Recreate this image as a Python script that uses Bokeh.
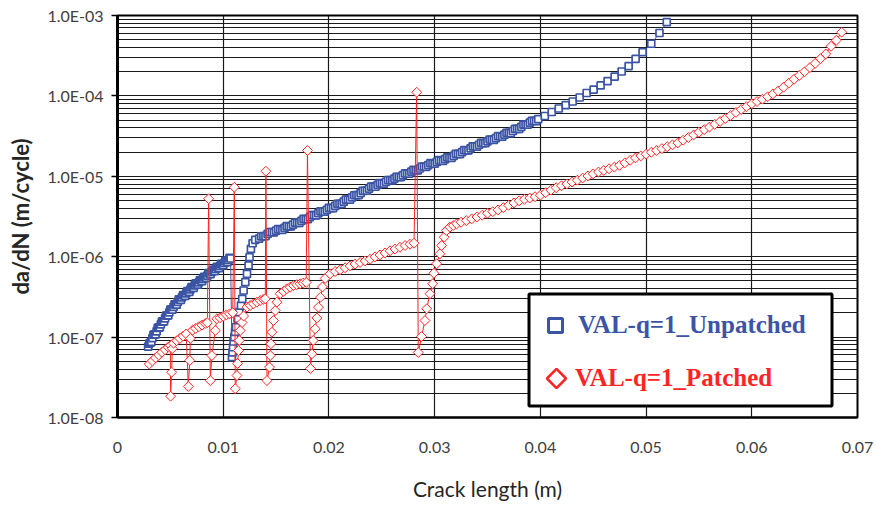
import numpy as np
from bokeh.plotting import figure
from bokeh.models import Range1d, FixedTicker, Legend, LegendItem
from bokeh.embed import file_html
from bokeh.resources import INLINE

# ---------------- data ----------------
blue_x = [0.0029, 0.0031, 0.0033, 0.0035, 0.0037, 0.0039, 0.0041, 0.0043, 0.0045, 0.0047,
          0.0049, 0.0051, 0.0053, 0.0055, 0.0057, 0.0059, 0.0061, 0.0063, 0.0065, 0.0067,
          0.0069, 0.0071, 0.0073, 0.0075, 0.0077, 0.0079, 0.0081, 0.0083, 0.0085, 0.0087,
          0.0089, 0.0091, 0.0093, 0.0095, 0.0097, 0.0099, 0.0101, 0.0103, 0.0105, 0.0107,
          0.01083, 0.01088, 0.01093, 0.01098, 0.01105, 0.01112, 0.01121, 0.01136, 0.01152, 0.01168,
          0.0118, 0.01193, 0.01209, 0.01225, 0.0124, 0.01249, 0.01262, 0.01278, 0.01303,
          0.0134, 0.0138, 0.0142, 0.0146, 0.0150, 0.0154, 0.0158, 0.0162, 0.0166, 0.0170,
          0.0174, 0.0178, 0.0182, 0.0186, 0.0190, 0.0194, 0.0198, 0.0202, 0.0206, 0.0210,
          0.0214, 0.0218, 0.0222, 0.0226, 0.0230, 0.0234, 0.0238, 0.0242, 0.0246, 0.0250,
          0.0254, 0.0258, 0.0262, 0.0266, 0.0270, 0.0274, 0.0278, 0.0282, 0.0286, 0.0290,
          0.0294, 0.0298, 0.0302, 0.0306, 0.0310, 0.0314, 0.0318, 0.0322, 0.0326, 0.0330,
          0.0334, 0.0338, 0.0342, 0.0346, 0.0350, 0.0354, 0.0358, 0.0362, 0.0366, 0.0370,
          0.0374, 0.0378, 0.0382, 0.0386, 0.0390, 0.0394, 0.0398,
          0.04042, 0.04108, 0.04174, 0.0424, 0.04306, 0.04372, 0.04438, 0.04504, 0.0457, 0.04636,
          0.04703, 0.04769, 0.04835, 0.04901, 0.04967, 0.05049, 0.05127, 0.05196]
blue_y = [7.6e-8, 8.5e-8, 9.7e-8, 1.08e-7, 1.18e-7, 1.32e-7, 1.44e-7, 1.57e-7, 1.71e-7, 1.86e-7,
          2.03e-7, 2.21e-7, 2.37e-7, 2.55e-7, 2.74e-7, 2.94e-7, 3.12e-7, 3.30e-7, 3.49e-7, 3.70e-7,
          3.92e-7, 4.15e-7, 4.40e-7, 4.59e-7, 4.80e-7, 5.06e-7, 5.29e-7, 5.52e-7, 5.83e-7, 6.18e-7,
          6.45e-7, 6.73e-7, 7.03e-7, 7.34e-7, 7.66e-7, 8.00e-7, 8.35e-7, 8.72e-7, 9.10e-7, 9.50e-7,
          5.62e-8, 6.44e-8, 7.48e-8, 8.81e-8, 9.97e-8, 1.16e-7, 1.33e-7, 1.69e-7, 2.04e-7, 2.47e-7,
          2.99e-7, 3.80e-7, 4.82e-7, 6.12e-7, 7.78e-7, 9.86e-7, 1.25e-6, 1.47e-6, 1.62e-6,
          1.68e-6, 1.80e-6, 1.92e-6, 2.03e-6, 2.11e-6, 2.19e-6, 2.28e-6, 2.39e-6, 2.51e-6, 2.64e-6,
          2.79e-6, 2.94e-6, 3.11e-6, 3.28e-6, 3.47e-6, 3.65e-6, 3.83e-6, 4.03e-6, 4.28e-6, 4.55e-6,
          4.83e-6, 5.14e-6, 5.47e-6, 5.82e-6, 6.19e-6, 6.61e-6, 7.03e-6, 7.46e-6, 7.82e-6, 8.18e-6,
          8.55e-6, 8.94e-6, 9.36e-6, 9.80e-6, 1.028e-5, 1.08e-5, 1.14e-5, 1.19e-5, 1.25e-5, 1.32e-5,
          1.38e-5, 1.45e-5, 1.51e-5, 1.57e-5, 1.64e-5, 1.70e-5, 1.80e-5, 1.90e-5, 2.00e-5, 2.11e-5,
          2.23e-5, 2.35e-5, 2.47e-5, 2.59e-5, 2.72e-5, 2.85e-5, 2.99e-5, 3.15e-5, 3.29e-5, 3.46e-5,
          3.66e-5, 3.89e-5, 4.13e-5, 4.40e-5, 4.64e-5, 4.89e-5, 5.15e-5,
          5.62e-5, 6.31e-5, 6.97e-5, 7.70e-5, 8.52e-5, 9.55e-5, 1.087e-4, 1.20e-4, 1.35e-4, 1.53e-4,
          1.74e-4, 2.01e-4, 2.35e-4, 2.88e-4, 3.50e-4, 4.45e-4, 6.06e-4, 8.26e-4]

# extra points of the thick (densely sampled, slightly scattered) parts of the blue band
blue_x_band = [0.0030, 0.0032, 0.0034, 0.0036, 0.0038, 0.0040, 0.0042, 0.0044, 0.0046, 0.0048,
               0.0050, 0.0052, 0.0054, 0.0056, 0.0058, 0.0060, 0.0062, 0.0064, 0.0066, 0.0068,
               0.0070, 0.0072, 0.0074, 0.0076, 0.0078, 0.0080, 0.0082, 0.0084, 0.0086, 0.0088,
               0.0090, 0.0092, 0.0094, 0.0096, 0.0098, 0.0100, 0.0102, 0.0104, 0.0106,
               0.0136, 0.0140, 0.0144, 0.0148, 0.0152, 0.0156, 0.0160, 0.0164, 0.0168, 0.0172,
               0.0176, 0.0180, 0.0184, 0.0188, 0.0192, 0.0196, 0.0200, 0.0204, 0.0208, 0.0212,
               0.0216, 0.0220, 0.0224, 0.0228, 0.0232, 0.0236, 0.0240, 0.0244, 0.0248, 0.0252,
               0.0256, 0.0260, 0.0264, 0.0268, 0.0272, 0.0276, 0.0280, 0.0284, 0.0288, 0.0292,
               0.0296, 0.0300, 0.0304, 0.0308, 0.0312, 0.0316, 0.0320, 0.0324, 0.0328, 0.0332,
               0.0336, 0.0340, 0.0344, 0.0348, 0.0352, 0.0356, 0.0360, 0.0364, 0.0368, 0.0372,
               0.0376, 0.0380, 0.0384, 0.0388, 0.0392, 0.0396]
blue_y_band = [8.3e-8, 8.7e-8, 1.07e-7, 1.08e-7, 1.30e-7, 1.32e-7, 1.56e-7, 1.57e-7, 1.85e-7, 1.86e-7,
               2.20e-7, 2.20e-7, 2.56e-7, 2.53e-7, 2.95e-7, 2.91e-7, 3.34e-7, 3.25e-7, 3.73e-7, 3.66e-7,
               4.19e-7, 4.10e-7, 4.67e-7, 4.50e-7, 5.13e-7, 4.96e-7, 5.62e-7, 5.44e-7, 6.24e-7, 6.06e-7,
               6.85e-7, 6.60e-7, 7.47e-7, 7.20e-7, 8.14e-7, 7.84e-7, 8.87e-7, 8.55e-7, 9.67e-7,
               1.79e-6, 1.80e-6, 2.03e-6, 2.01e-6, 2.21e-6, 2.16e-6, 2.40e-6, 2.38e-6, 2.65e-6, 2.63e-6,
               2.95e-6, 2.93e-6, 3.29e-6, 3.27e-6, 3.67e-6, 3.63e-6, 4.05e-6, 4.03e-6, 4.54e-6, 4.55e-6,
               5.13e-6, 5.14e-6, 5.81e-6, 5.82e-6, 6.59e-6, 6.62e-6, 7.46e-6, 7.41e-6, 8.24e-6, 8.11e-6,
               9.00e-6, 8.88e-6, 9.87e-6, 9.74e-6, 1.086e-5, 1.077e-5, 1.20e-5, 1.183e-5, 1.324e-5, 1.31e-5,
               1.457e-5, 1.436e-5, 1.586e-5, 1.557e-5, 1.72e-5, 1.698e-5, 1.906e-5, 1.892e-5, 2.117e-5, 2.105e-5,
               2.359e-5, 2.338e-5, 2.606e-5, 2.575e-5, 2.869e-5, 2.832e-5, 3.162e-5, 3.123e-5, 3.476e-5, 3.453e-5,
               3.883e-5, 3.89e-5, 4.388e-5, 4.384e-5, 4.903e-5, 4.869e-5]

red_x = [0.0030, 0.0033, 0.0036, 0.0039, 0.0042, 0.0045, 0.0048, 0.0050,
         0.00502, 0.00512, 0.00518,
         0.0053, 0.0056, 0.0059, 0.0062, 0.0065,
         0.0067, 0.00684, 0.00689,
         0.0071, 0.0074, 0.0077, 0.0080, 0.0083, 0.0085,
         0.00862, 0.00878, 0.00893, 0.00925,
         0.0094, 0.0097, 0.0100, 0.0103, 0.0106, 0.0109,
         0.01105, 0.01114, 0.0113, 0.01136, 0.01145, 0.01152, 0.01161, 0.01178, 0.01193,
         0.01225, 0.01256, 0.01287, 0.01318, 0.0135, 0.01379, 0.01398,
         0.01404, 0.01414, 0.01438, 0.01445, 0.01451, 0.01461, 0.01476, 0.01492, 0.01508,
         0.01539, 0.0157, 0.01602, 0.01634, 0.01665, 0.01696, 0.01728, 0.01756, 0.01785,
         0.01797, 0.01825, 0.01839, 0.01851, 0.0187, 0.01886, 0.01901, 0.0192, 0.01939, 0.01964,
         0.02011, 0.02059, 0.02106, 0.02153, 0.0220, 0.02247, 0.02295, 0.02342, 0.02389, 0.02436,
         0.02483, 0.02531, 0.02578, 0.02625, 0.02672, 0.0272, 0.02767, 0.02805,
         0.0283, 0.02845, 0.02877, 0.02908, 0.02925, 0.02956, 0.02981, 0.02993, 0.03019, 0.0305,
         0.03066, 0.03091, 0.03113, 0.03144, 0.03176, 0.03208,
         0.0325, 0.0330, 0.0335, 0.0340, 0.0345, 0.0350, 0.0355, 0.0360, 0.0365, 0.0370,
         0.0375, 0.0380, 0.0385, 0.0390, 0.0395, 0.0400, 0.0405, 0.0410, 0.0415, 0.0420,
         0.0425, 0.0430, 0.0435, 0.0440, 0.0445, 0.0450, 0.0455, 0.0460, 0.0465, 0.0470,
         0.0475, 0.0480, 0.0485, 0.0490, 0.0495, 0.0500, 0.0505, 0.0510, 0.0515, 0.0520,
         0.0525, 0.0530, 0.0535, 0.0540, 0.0545, 0.0550, 0.0555, 0.0560, 0.0565, 0.0570,
         0.0575, 0.0580, 0.0585, 0.0590, 0.0595, 0.0600, 0.0605, 0.0610, 0.0615, 0.0620,
         0.0625, 0.0630, 0.0635, 0.0640, 0.0645, 0.0650, 0.0655, 0.0660, 0.0665, 0.0670,
         0.0675, 0.0680, 0.0685]
red_y = [4.62e-8, 5.05e-8, 5.51e-8, 5.97e-8, 6.47e-8, 6.97e-8, 7.48e-8, 7.87e-8,
         1.84e-8, 3.66e-8, 7.2e-8,
         8.40e-8, 9.00e-8, 9.62e-8, 1.026e-7, 1.096e-7,
         2.43e-8, 5.12e-8, 9.62e-8,
         1.219e-7, 1.282e-7, 1.346e-7, 1.41e-7, 1.476e-7, 1.507e-7,
         5.25e-6, 2.88e-8, 5.9e-8, 1.208e-7,
         1.69e-7, 1.742e-7, 1.815e-7, 1.892e-7, 1.945e-7, 2.01e-7,
         7.31e-6, 2.28e-8, 3.33e-8, 4.70e-8, 6.81e-8, 9.08e-8, 1.208e-7, 1.52e-7, 1.83e-7,
         2.36e-7, 2.47e-7, 2.59e-7, 2.72e-7, 2.85e-7, 2.94e-7, 2.99e-7,
         1.156e-5, 2.88e-8, 4.23e-8, 5.90e-8, 8.26e-8, 1.15e-7, 1.607e-7, 2.14e-7, 2.72e-7,
         3.46e-7, 3.71e-7, 3.99e-7, 4.18e-7, 4.38e-7, 4.49e-7, 4.60e-7, 4.70e-7, 4.78e-7,
         2.094e-5, 4.07e-8, 6.19e-8, 9.08e-8, 1.268e-7, 1.73e-7, 2.355e-7, 3.13e-7, 4.20e-7, 5.36e-7,
         6.12e-7, 6.55e-7, 6.89e-7, 7.28e-7, 7.69e-7, 8.09e-7, 8.47e-7, 8.87e-7, 9.29e-7, 9.95e-7,
         1.052e-6, 1.114e-6, 1.184e-6, 1.245e-6, 1.309e-6, 1.377e-6, 1.429e-6, 1.472e-6,
         1.111e-4, 6.43e-8, 1.016e-7, 1.607e-7, 2.25e-7, 3.46e-7, 4.60e-7, 6.23e-7, 8.17e-7, 1.087e-6,
         1.377e-6, 1.75e-6, 2.12e-6, 2.33e-6, 2.44e-6, 2.56e-6,
         2.68e-6, 2.81e-6, 2.95e-6, 3.12e-6, 3.28e-6, 3.47e-6, 3.63e-6, 3.82e-6, 4.08e-6, 4.36e-6,
         4.66e-6, 4.96e-6, 5.18e-6, 5.37e-6, 5.57e-6, 5.82e-6, 6.25e-6, 6.71e-6, 7.21e-6, 7.62e-6,
         8.02e-6, 8.47e-6, 8.94e-6, 9.51e-6, 1.009e-5, 1.07e-5, 1.13e-5, 1.18e-5, 1.24e-5, 1.30e-5,
         1.37e-5, 1.47e-5, 1.58e-5, 1.69e-5, 1.79e-5, 1.88e-5, 1.99e-5, 2.09e-5, 2.21e-5, 2.33e-5,
         2.46e-5, 2.60e-5, 2.81e-5, 3.03e-5, 3.27e-5, 3.53e-5, 3.80e-5, 4.10e-5, 4.43e-5, 4.80e-5,
         5.24e-5, 5.70e-5, 6.22e-5, 6.78e-5, 7.35e-5, 7.98e-5, 8.52e-5, 9.10e-5, 9.75e-5, 1.06e-4,
         1.15e-4, 1.28e-4, 1.44e-4, 1.61e-4, 1.80e-4, 2.00e-4, 2.25e-4, 2.54e-4, 2.90e-4, 3.32e-4,
         4.14e-4, 4.92e-4, 6.20e-4]

series_names = ["VAL-q=1_Unpatched", "VAL-q=1_Patched"]
x_ticks = [0, 0.01, 0.02, 0.03, 0.04, 0.05, 0.06, 0.07]
x_tick_labels = ["0", "0.01", "0.02", "0.03", "0.04", "0.05", "0.06", "0.07"]
y_ticks = [1e-8, 1e-7, 1e-6, 1e-5, 1e-4, 1e-3]
y_tick_labels = ["1.0E-08", "1.0E-07", "1.0E-06", "1.0E-05", "1.0E-04", "1.0E-03"]
x_title = "Crack length (m)"
y_title = "da/dN (m/cycle)"

# combined blue series, ordered along the crack length
_bx = blue_x + blue_x_band
_by = blue_y + blue_y_band
_order = np.argsort(_bx, kind="stable")
bx = [_bx[i] for i in _order]
by = [_by[i] for i in _order]

# ---------------- styling / layout ----------------
BLUE = "#3B54A4"
RED = "#FF2424"
GRID = "#1a1a1a"
TICK_FONT = "Lato"

W, H = 877, 506
FL, FR, FT, FB = 117, 20, 15, 89          # borders around the plotting frame (px)
X0, X1, Y0, Y1 = 0.0, 0.07, 1e-8, 1e-3
FW, FH = W - FL - FR, H - FT - FB


def px2x(px):
    """canvas pixel column -> data x (used only to place the legend box/symbol)"""
    return X0 + (px - FL) / FW * (X1 - X0)


def px2y(py):
    """canvas pixel row -> data y on the log axis (legend placement only)"""
    ly0, ly1 = np.log10(Y0), np.log10(Y1)
    return 10 ** (ly1 - (py - FT) / FH * (ly1 - ly0))


y_minor = [m * 10.0 ** k for k in range(-8, -3) for m in range(2, 10)]

p = figure(width=W, height=H, y_axis_type="log",
           x_range=Range1d(X0, X1), y_range=Range1d(Y0, Y1),
           output_backend="svg", toolbar_location=None,
           min_border_left=FL, min_border_right=FR, min_border_top=FT, min_border_bottom=FB)
p.background_fill_color = "white"
p.border_fill_color = "white"
p.outline_line_color = "black"
p.outline_line_width = 2

xt = FixedTicker(ticks=x_ticks)
yt = FixedTicker(ticks=y_ticks, minor_ticks=y_minor)
p.xaxis.ticker = xt
p.yaxis.ticker = yt
p.xgrid.ticker = xt
p.ygrid.ticker = yt

p.xaxis.major_label_overrides = dict(zip(x_ticks, x_tick_labels))
p.yaxis.major_label_overrides = dict(zip(y_ticks, y_tick_labels))

for g in (p.xgrid, p.ygrid):
    g.grid_line_color = GRID
    g.grid_line_width = 1.2
p.ygrid.minor_grid_line_color = GRID
p.ygrid.minor_grid_line_width = 1.2

# axes
p.yaxis.axis_line_width = 3
p.yaxis.axis_line_color = "black"
p.yaxis.major_tick_out = 6
p.yaxis.major_tick_in = 0
p.yaxis.major_tick_line_width = 1.5
p.yaxis.minor_tick_line_color = None
p.yaxis.major_label_standoff = 8
p.xaxis.axis_line_width = 2
p.xaxis.axis_line_color = "black"
p.xaxis.major_tick_line_color = None
p.xaxis.minor_tick_line_color = None
p.xaxis.major_tick_out = 0
p.xaxis.major_label_standoff = 24

for ax in (p.xaxis, p.yaxis):
    ax.major_label_text_font = TICK_FONT
    ax.major_label_text_font_size = "16px"
    ax.major_label_text_color = "#404040"
    ax.axis_label_text_font = TICK_FONT
    ax.axis_label_text_color = "#262626"

p.xaxis.axis_label = x_title
p.xaxis.axis_label_text_font_size = "21px"
p.xaxis.axis_label_text_font_style = "normal"
p.xaxis.axis_label_standoff = 20
p.yaxis.axis_label = y_title
p.yaxis.axis_label_text_font_size = "22px"
p.yaxis.axis_label_text_font_style = "bold"
p.yaxis.axis_label_standoff = 10

# ---------------- series ----------------
p.line(bx, by, line_color=BLUE, line_width=1)
p.scatter(bx, by, marker="square", size=7, line_color=BLUE, line_width=1.7,
          fill_color="white")
p.line(red_x, red_y, line_color=RED, line_width=1)
p.scatter(red_x, red_y, marker="square", angle=np.pi / 4, size=7, line_color=RED,
          line_width=1, fill_color="white")

# ---------------- legend ----------------
# box (white, thick black border) and the two symbols, placed in pixel terms
p.quad(left=[px2x(528.5)], right=[px2x(831.5)], top=[px2y(293.5)], bottom=[px2y(405.5)],
       fill_color="white", line_color="black", line_width=3)
p.scatter([px2x(555)], [px2y(325)], marker="square", size=14, line_color=BLUE,
          line_width=3, fill_color="white")
p.scatter([px2x(556)], [px2y(378)], marker="square", angle=np.pi / 4, size=13.5,
          line_color=RED, line_width=2.5, fill_color="white")

# coloured legend texts
r_txt_b = p.scatter([np.nan], [np.nan], marker="square", size=1, line_alpha=0, fill_alpha=0)
r_txt_r = p.scatter([np.nan], [np.nan], marker="square", size=1, line_alpha=0, fill_alpha=0)
common = dict(padding=0, margin=0, spacing=0, border_line_color=None,
              background_fill_alpha=0, label_text_font="Liberation Serif",
              label_text_font_style="bold", label_text_font_size="25px",
              label_height=30)
leg_b = Legend(items=[LegendItem(label=series_names[0], renderers=[r_txt_b])],
               location=(420, 74), glyph_width=36, glyph_height=36, label_standoff=5,
               label_text_color=BLUE, **common)
leg_r = Legend(items=[LegendItem(label=series_names[1], renderers=[r_txt_r])],
               location=(423, 23), glyph_width=32, glyph_height=32, label_standoff=3,
               label_text_color=RED, **common)
p.add_layout(leg_b)
p.add_layout(leg_r)

open("out.html", "w").write(file_html(p, INLINE))
